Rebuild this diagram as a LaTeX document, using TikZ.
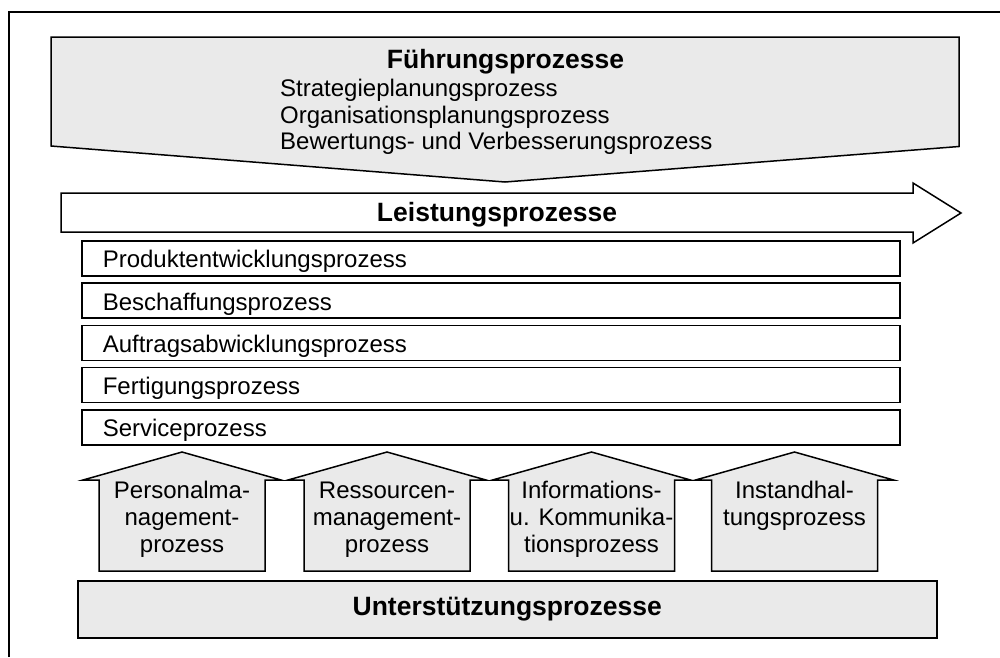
\documentclass[tikz,border=0pt]{standalone}
\usepackage{fontspec}
\setmainfont{Liberation Sans}
\definecolor{procgray}{HTML}{EAEAEA}
\begin{document}
\begin{tikzpicture}[x=1pt,y=-1pt,
  outline/.style={draw=black, line width=1.5pt, line join=miter},
  grayshape/.style={outline, fill=procgray},
  regtext/.style={font=\fontsize{24}{26.6}\selectfont, inner sep=0pt},
  boldtext/.style={font=\fontsize{26.5}{30}\selectfont\bfseries, inner sep=0pt},
  rowbox/.style={outline, fill=white, anchor=north west, inner xsep=21pt, inner ysep=0pt,
    text width=776pt, align=left, text height=27pt, text depth=8pt,
    font=\fontsize{24}{27}\selectfont},
  supportbox/.style={grayshape, anchor=north west, minimum width=859pt, inner sep=0pt,
    text height=35pt, text depth=22pt, font=\fontsize{26.5}{30}\selectfont\bfseries},
  arrowtext/.style={inner sep=0pt, align=center, anchor=base, font=\fontsize{24}{27}\selectfont}
]
\useasboundingbox (0,0) rectangle (1000,657);

% outer frame (cut off at right and bottom)
\draw[line width=1.2pt] (9,657) -- (9,12) -- (1000,12);

% Fuehrungsprozesse
\draw[grayshape] (51,37) -- (959,37) -- (959,146.5) -- (505,182) -- (51,146) -- cycle;
\node[boldtext, anchor=base] (fuehrung) at (505.5,68) {Führungsprozesse};
\node[regtext, anchor=base west, align=left] (fuehrungliste) at (280,149.9)
  {Strategieplanungsprozess\\Organisationsplanungsprozess\\Bewertungs- und Verbesserungsprozess};

% Leistungsprozesse arrow
\draw[outline, fill=white] (61,193) -- (913,193) -- (913,183) -- (961,213) -- (913,243) -- (913,232) -- (61,232) -- cycle;
\node[boldtext, anchor=base] (leistung) at (497,221) {Leistungsprozesse};

% process rows
\foreach \t [count=\i from 0] in {Produktentwicklungsprozess, Beschaffungsprozess,
    Auftragsabwicklungsprozess, Fertigungsprozess, Serviceprozess}
  \node[rowbox] (row\i) at (81,240+42.3*\i) {\t};

% support arrows (base anchor = last line's baseline)
\foreach \cx/\by/\txt [count=\i] in {182/552/{Personalma-\\nagement-\\prozess},
    387/552/{Ressourcen-\\management-\\prozess},
    591.5/552/{Informations-\\u. Kommunika-\\tionsprozess},
    794.5/525/{Instandhal-\\tungsprozess}} {
  \draw[grayshape] (\cx-83,571) -- (\cx-83,480) -- (\cx-99,480) -- (\cx,452)
    -- (\cx+99,480) -- (\cx+83,480) -- (\cx+83,571) -- cycle;
  \node[arrowtext] (support\i) at (\cx,\by) {\txt};
}

% Unterstuetzungsprozesse
\node[supportbox] (unterstuetzung) at (77,580) {Unterstützungsprozesse};
\end{tikzpicture}
\end{document}
